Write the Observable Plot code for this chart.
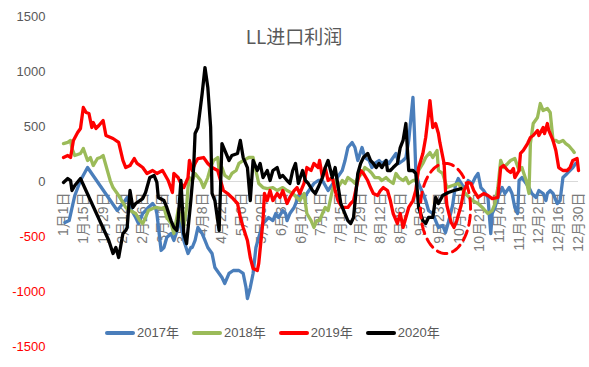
<!DOCTYPE html>
<html><head><meta charset="utf-8">
<script src="https://cdn.jsdelivr.net/npm/d3@7"></script>
<script src="https://cdn.jsdelivr.net/npm/@observablehq/plot@0.6"></script>
<style>
body{margin:0;background:#fff;font-family:"Liberation Sans","Noto Sans CJK SC",sans-serif}
#wrap{position:relative;width:589px;height:367px;overflow:hidden}
#legend{position:absolute;left:105px;top:325px;display:flex;align-items:center;font-size:13px;color:#595959;line-height:16px}
.item{display:flex;align-items:center;margin-right:13px}
.sw{width:30px;height:4px;border-radius:2px;margin-right:2px}
</style></head><body>
<div id="wrap"><div id="chart"></div><div id="legend"></div></div>
<script>
const title = "LL进口利润";
const seriesNames = ["2017年", "2018年", "2019年", "2020年"];
const seriesColors = ["#4A7EBB", "#9BBB59", "#FF0000", "#000000"];
const tickDays = [0,14,28,42,56,70,84,98,112,126,140,154,168,182,196,210,224,238,252,266,280,294,308,322,336,350,364];
const tickLabels = ["1月1日","1月15日","1月29日","2月12日","2月26日","3月11日","3月25日","4月8日","4月22日","5月6日","5月20日","6月3日","6月17日","7月1日","7月15日","7月29日","8月12日","8月26日","9月9日","9月23日","10月7日","10月21日","11月4日","11月18日","12月2日","12月16日","12月30日"];
const yTicksPos = [0, 500, 1000, 1500];
const yTicksNeg = [-500, -1000, -1500];

const s2017 = [[1,-373],[4,-355],[8,-127],[12,9],[17,127],[38,-264],[42,-200],[45,-145],[47,-236],[51,-327],[53,-382],[56,-291],[58,-264],[60,-236],[63,-200],[65,-236],[66,-291],[69,-627],[71,-600],[73,-509],[76,-473],[78,-536],[81,-418],[83,-355],[85,-536],[88,-655],[90,-600],[91,-600],[93,-536],[95,-418],[98,-473],[100,-536],[102,-600],[105,-655],[107,-782],[110,-836],[112,-873],[114,-927],[117,-836],[120,-809],[124,-809],[127,-836],[129,-964],[130,-1064],[132,-964],[134,-836],[136,-600],[138,-509],[141,-382],[143,-355],[145,-327],[148,-355],[150,-291],[152,-327],[155,-264],[157,-291],[158,-355],[160,-291],[163,-236],[165,-173],[167,-109],[170,-145],[172,-109],[175,-55],[177,-18],[180,9],[183,9],[187,-82],[192,9],[197,100],[199,191],[201,309],[204,355],[206,309],[208,191],[211,309],[213,218],[216,191],[218,127],[220,164],[223,191],[225,164],[228,191],[230,164],[233,218],[235,255],[237,164],[240,191],[242,218],[244,373],[247,764],[248,464],[249,100],[251,-18],[254,-109],[256,-173],[258,-264],[261,-291],[263,-355],[265,-418],[268,-400],[270,-464],[272,-373],[275,-218],[277,-36],[279,27],[282,-36],[284,-55],[286,9],[289,-18],[291,36],[293,73],[295,-55],[297,-82],[300,-145],[302,-473],[303,-291],[305,-236],[307,-145],[310,-55],[312,-109],[315,-55],[317,-109],[319,-236],[321,-291],[322,9],[324,36],[327,-18],[329,-55],[331,-109],[334,-145],[336,-82],[339,-109],[341,-173],[342,-109],[344,-82],[346,-109],[349,-200],[351,-173],[353,36],[356,73],[360,127],[362,164]];

const s2018 = [[0,345],[3,355],[5,373],[6,300],[8,236],[12,255],[14,300],[17,191],[19,218],[21,145],[24,209],[26,218],[28,236],[31,100],[33,9],[35,-55],[38,-109],[42,-191],[44,-236],[47,-264],[51,-291],[54,-355],[56,-382],[58,-327],[60,-264],[63,-245],[65,-236],[69,-245],[71,-236],[73,-327],[76,-382],[78,-473],[81,-264],[83,-327],[85,-418],[87,-236],[88,-55],[89,36],[91,9],[93,73],[97,9],[99,-55],[102,36],[104,127],[106,191],[109,218],[110,100],[112,127],[114,55],[117,27],[119,73],[122,100],[124,164],[127,191],[131,218],[134,218],[136,100],[138,-18],[141,-55],[144,-64],[148,-55],[151,-82],[155,-55],[158,-82],[162,-109],[165,-145],[167,-173],[170,-109],[172,-291],[175,-355],[177,-418],[179,-355],[181,-355],[183,-291],[185,-236],[187,-264],[190,-82],[192,9],[194,-55],[197,9],[199,-18],[201,36],[204,9],[206,-18],[208,36],[211,73],[213,127],[216,100],[218,73],[220,36],[223,36],[225,9],[228,36],[230,9],[233,-18],[235,73],[237,36],[240,9],[242,36],[244,-18],[247,9],[249,9],[251,100],[254,164],[256,218],[259,264],[261,218],[264,282],[265,100],[268,73],[271,-55],[275,-36],[279,-18],[284,-109],[289,-173],[293,-200],[296,-236],[298,-264],[300,-291],[303,-264],[305,-200],[307,-55],[309,191],[311,127],[314,164],[316,191],[319,209],[322,100],[324,127],[327,9],[329,-109],[330,345],[332,527],[335,582],[337,709],[339,645],[342,664],[344,627],[346,373],[348,373],[350,355],[353,373],[355,345],[357,327],[360,282],[361,264]];

const s2019 = [[0,218],[3,236],[5,218],[7,373],[10,445],[12,482],[14,673],[16,627],[18,618],[20,491],[21,536],[23,482],[25,509],[28,555],[30,418],[35,391],[39,355],[42,191],[44,127],[47,145],[50,209],[52,164],[56,127],[59,73],[63,100],[66,73],[70,100],[72,55],[74,9],[77,-100],[78,73],[81,36],[83,-18],[85,-55],[88,36],[89,191],[91,100],[93,164],[95,209],[99,218],[102,164],[105,127],[109,100],[111,9],[113,-82],[116,-109],[119,-145],[123,-200],[125,-327],[127,-418],[130,-536],[132,-691],[134,-791],[137,-809],[138,-745],[141,-355],[142,-109],[144,-173],[146,-82],[148,-173],[151,-109],[153,-145],[155,-82],[158,-200],[160,-145],[163,-82],[165,-55],[167,-109],[170,-18],[172,127],[175,100],[177,164],[180,127],[181,191],[183,36],[185,127],[187,9],[190,36],[192,-82],[194,-173],[197,-236],[201,-236],[203,-200],[205,-173],[208,9],[210,100],[212,73],[215,9],[217,-55],[219,-109],[222,-127],[224,-82],[226,-55],[229,-82],[231,-173],[233,-291],[236,-382],[238,-291],[240,-418],[242,-327],[244,-236],[247,-173],[249,-82],[251,127],[254,255],[256,400],[258,618],[259,736],[261,491],[263,527],[265,436],[266,355],[269,164],[270,-82],[271,-218],[274,-373],[276,-418],[278,-355],[281,-218],[283,-82],[286,-9],[288,-18],[290,-82],[293,-145],[297,-109],[300,-127],[303,-155],[307,-145],[309,127],[311,145],[314,100],[316,82],[318,118],[319,36],[322,100],[323,255],[325,282],[328,345],[330,400],[332,418],[335,464],[336,418],[339,491],[340,436],[342,527],[343,464],[346,373],[348,282],[350,127],[353,100],[356,100],[358,127],[360,191],[363,209],[364,100]];

const s2020 = [[0,-9],[3,27],[5,9],[6,-82],[8,-36],[12,27],[32,-536],[35,-655],[37,-600],[39,-691],[42,-473],[44,-445],[45,-418],[47,-82],[49,-236],[51,-200],[54,-173],[56,-155],[58,-100],[61,36],[64,55],[66,-9],[67,-145],[71,-173],[73,-236],[76,-355],[78,-418],[80,-445],[81,-355],[83,9],[85,-473],[87,-564],[90,-173],[92,127],[93,436],[95,491],[98,800],[100,1036],[102,855],[104,491],[105,-109],[107,-173],[110,-445],[112,345],[114,282],[117,191],[119,236],[123,255],[125,373],[127,218],[130,127],[132,-173],[134,191],[137,100],[139,164],[141,36],[144,100],[146,9],[148,100],[151,127],[153,36],[155,55],[158,9],[160,-18],[162,100],[164,164],[166,-18],[169,100],[171,9],[173,-18],[176,-82],[178,-109],[180,-55],[183,36],[185,127],[187,191],[190,36],[192,127],[196,-200],[198,-264],[201,-355],[203,-382],[205,-327],[208,73],[210,164],[212,218],[215,255],[217,191],[219,164],[221,127],[223,164],[225,127],[228,191],[229,100],[231,100],[233,127],[236,164],[238,309],[240,373],[242,527],[243,309],[244,100],[247,100],[249,73],[251,-236],[254,-355],[256,-382],[258,-327],[261,-327],[263,-145],[265,-200],[268,-127],[272,-100],[276,-82],[281,-64]];

// annotation: dashed ellipse (center day, value; radii in days, value units)
const ellipseCenter = [270, -245];
const ellipseRadii = [17.7, 410];

const allSeries = [s2017, s2018, s2019, s2020];
const ellipsePts = d3.range(0, 361, 4).map(a => {
  const t = a * Math.PI / 180;
  return [ellipseCenter[0] + ellipseRadii[0] * Math.cos(t), ellipseCenter[1] + ellipseRadii[1] * Math.sin(t)];
});
const ticks = tickDays.map((d, i) => ({day: d, label: tickLabels[i]}));

const font = "Liberation Sans, Noto Sans CJK SC, sans-serif";
const fmt = d => String(d);
const chart = Plot.plot({
  width: 589,
  height: 367,
  marginLeft: 63,
  marginRight: 11,
  marginTop: 16,
  marginBottom: 21,
  style: {fontFamily: font, fontSize: "13px", background: "transparent"},
  x: {domain: [0, 364], axis: null},
  y: {domain: [-1500, 1500], axis: null},
  marks: [
    Plot.ruleY([0], {stroke: "#d9d9d9", strokeWidth: 1.2}),
    Plot.axisY(yTicksPos, {anchor: "left", tickSize: 0, tickPadding: 18, tickFormat: fmt, fill: "#595959", fontSize: 13, label: null}),
    Plot.axisY(yTicksNeg, {anchor: "left", tickSize: 0, tickPadding: 18, tickFormat: fmt, fill: "#FF0000", fontSize: 13, label: null}),
    Plot.text(ticks, {x: "day", y: () => 0, text: "label", rotate: -90, textAnchor: "end", dy: 11, fontSize: 14, fill: "#7a7a7a", fontFamily: font}),
    ...allSeries.map((s, i) => Plot.line(s, {x: d => d[0], y: d => d[1], stroke: seriesColors[i], strokeWidth: 3.3, strokeLinejoin: "round", strokeLinecap: "round"})),
    Plot.line(ellipsePts, {x: d => d[0], y: d => d[1], stroke: "#FF0000", strokeWidth: 3, strokeDasharray: "10,6"}),
    Plot.text([title], {frameAnchor: "top", text: d => d, dy: 14, dx: -27, fontSize: 19, fill: "#595959", fontFamily: "Noto Sans CJK SC, sans-serif"})
  ]
});
document.getElementById("chart").appendChild(chart);

const legend = document.getElementById("legend");
seriesNames.forEach((n, i) => {
  const it = document.createElement("div");
  it.className = "item";
  it.innerHTML = `<span class="sw" style="background:${seriesColors[i]}"></span><span>${n}</span>`;
  legend.appendChild(it);
});
</script>
</body></html>
